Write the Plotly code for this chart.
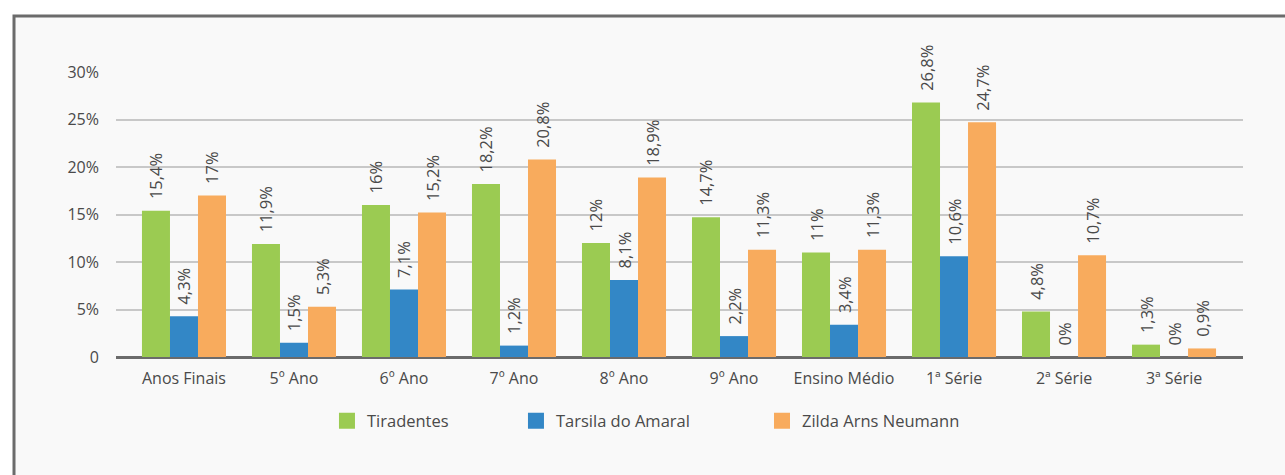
import plotly.graph_objects as go

# categories and series (percent)
categories = ["Anos Finais", "5º Ano", "6º Ano", "7º Ano", "8º Ano", "9º Ano",
              "Ensino Médio", "1ª Série", "2ª Série", "3ª Série"]
tiradentes = [15.4, 11.9, 16, 18.2, 12, 14.7, 11, 26.8, 4.8, 1.3]
tarsila = [4.3, 1.5, 7.1, 1.2, 8.1, 2.2, 3.4, 10.6, 0, 0]
zilda = [17, 5.3, 15.2, 20.8, 18.9, 11.3, 11.3, 24.7, 10.7, 0.9]

series_names = ["Tiradentes", "Tarsila do Amaral", "Zilda Arns Neumann"]
series_values = [tiradentes, tarsila, zilda]
series_colors = ["#9BCB52", "#3387C6", "#F8AB5D"]

tick_vals = [0, 5, 10, 15, 20, 25, 30]
tick_text = ["0", "5%", "10%", "15%", "20%", "25%", "30%"]

FONT = "Open Sans"
TEXT_COLOR = "#4a4a4a"


def fmt(v):
    # Portuguese style decimal comma, small lead so label floats above the bar
    return "\u00a0\u00a0" + f"{v:g}".replace(".", ",") + "%"


fig = go.Figure()

legend_ids = ["legend", "legend2", "legend3"]
legend_x = [0.1872, 0.3549, 0.5732]

for name, vals, color, lid in zip(series_names, series_values, series_colors, legend_ids):
    fig.add_trace(go.Bar(
        x=categories,
        y=vals,
        name=name,
        marker=dict(color=color, line=dict(width=0)),
        text=[fmt(v) for v in vals],
        textposition="outside",
        textangle=-90,
        textfont=dict(family=FONT, size=16.5, color=TEXT_COLOR),
        cliponaxis=False,
        constraintext="none",
        showlegend=False,
    ))
    # legend entry with a bigger square swatch, one legend per series
    fig.add_trace(go.Scatter(
        x=[None], y=[None], mode="markers", name=name, legend=lid,
        marker=dict(symbol="square", size=16, color=color),
    ))

# frame around the chart
fig.add_shape(
    type="rect", xref="paper", yref="paper",
    x0=-0.0905, x1=1.2, y0=-0.6, y1=1.1965,
    fillcolor="#F9F9F9", line=dict(color="#6B6B6B", width=3),
    layer="below",
)

legend_style = dict(
    orientation="h", xanchor="left", y=-0.225, yanchor="middle",
    font=dict(family=FONT, size=16.5, color=TEXT_COLOR),
    bgcolor="rgba(0,0,0,0)",
)

fig.update_layout(
    width=1285, height=475,
    margin=dict(l=116, r=42, t=72, b=118),
    paper_bgcolor="white",
    plot_bgcolor="rgba(0,0,0,0)",
    barmode="group",
    bargap=0.236,
    bargroupgap=0,
    font=dict(family=FONT, size=15, color=TEXT_COLOR),
    legend=dict(x=legend_x[0], **legend_style),
    legend2=dict(x=legend_x[1], **legend_style),
    legend3=dict(x=legend_x[2], **legend_style),
    xaxis=dict(
        range=[-0.618, 9.627],
        showgrid=False, showline=False, zeroline=False,
        tickfont=dict(family=FONT, size=16, color=TEXT_COLOR),
        ticklabelstandoff=10,
    ),
    yaxis=dict(
        range=[0, 30],
        tickvals=tick_vals, ticktext=tick_text,
        showgrid=True, gridcolor="#C8C8C8", gridwidth=1.5,
        zeroline=True, zerolinecolor="#6B6B6B", zerolinewidth=2.5,
        showline=False,
        tickfont=dict(family=FONT, size=16, color=TEXT_COLOR),
        ticklabelstandoff=16,
    ),
)

fig.write_html(
    "out.html",
    config={"displayModeBar": False},
    post_script="document.body.style.margin='0';document.body.style.overflow='hidden';",
)
